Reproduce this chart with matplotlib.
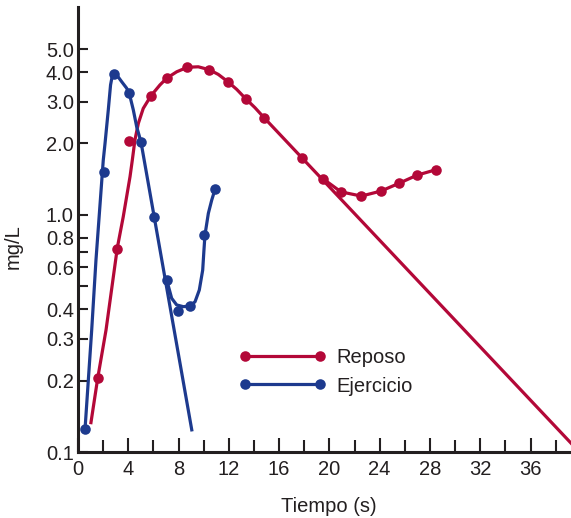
import matplotlib
matplotlib.use('Agg')
import matplotlib.pyplot as plt
from matplotlib.lines import Line2D
from matplotlib.ticker import NullLocator

plt.rcParams['font.family'] = ['Liberation Sans', 'DejaVu Sans']

# Reposo: measured points and the drawn curve (tiempo in s, concentracion in mg/L)
reposo_t = [1.57, 3.08, 4.08, 5.81, 7.06, 8.70, 10.45, 11.93, 13.34, 14.80,
            17.82, 19.49, 20.92, 22.54, 24.11, 25.56, 26.97, 28.48]
reposo_c = [0.205, 0.72, 2.05, 3.18, 3.77, 4.20, 4.08, 3.63, 3.08, 2.55,
            1.73, 1.42, 1.25, 1.20, 1.26, 1.36, 1.47, 1.55]
reposo_curva_t = [1.03, 1.57, 2.23, 3.13, 3.60, 4.14, 4.32, 4.53, 4.80, 5.19,
                  5.81, 6.52, 7.06, 7.85, 8.70, 9.57, 10.45, 11.16, 11.93,
                  12.63, 13.31, 14.08, 14.80, 39.22]
reposo_curva_c = [0.133, 0.205, 0.327, 0.727, 0.982, 1.45, 1.70, 2.07, 2.43,
                  2.81, 3.18, 3.53, 3.77, 4.01, 4.19, 4.21, 4.09, 3.91, 3.64,
                  3.38, 3.10, 2.83, 2.57, 0.109]
reposo_rama_t = [19.49, 20.92, 22.54, 24.11, 25.56, 26.97, 28.48]
reposo_rama_c = [1.42, 1.25, 1.20, 1.26, 1.36, 1.47, 1.55]

# Ejercicio
ejercicio_t = [0.56, 2.07, 2.86, 4.08, 5.01, 6.02, 7.06, 7.93, 8.93, 10.00, 10.90]
ejercicio_c = [0.125, 1.51, 3.92, 3.25, 2.03, 0.98, 0.531, 0.394, 0.413, 0.822, 1.28]
ejercicio_curva_t = [0.56, 1.09, 1.43, 2.01, 2.15, 2.41, 2.59, 2.70, 2.86, 3.08,
                     3.48, 3.87, 4.08, 4.40, 4.67, 5.01, 9.05]
ejercicio_curva_c = [0.125, 0.327, 0.645, 1.70, 2.00, 2.77, 3.53, 3.79, 3.92,
                     3.89, 3.64, 3.42, 3.25, 2.77, 2.35, 2.03, 0.124]
ejercicio_rama_t = [7.06, 7.45, 7.85, 8.38, 8.91, 9.31, 9.65, 9.92, 10.02,
                    10.10, 10.37, 10.64, 10.90]
ejercicio_rama_c = [0.531, 0.445, 0.417, 0.410, 0.413, 0.430, 0.482, 0.585,
                    0.710, 0.822, 1.015, 1.155, 1.28]

x_ticks = [0, 4, 8, 12, 16, 20, 24, 28, 32, 36]
x_minor = [2, 6, 10, 14, 18, 22, 26, 30, 34, 38]
y_ticks = [0.1, 0.2, 0.3, 0.4, 0.5, 0.6, 0.7, 0.8, 1.0, 2.0, 3.0, 4.0, 5.0]
y_labels = ['0.1', '0.2', '0.3', '0.4', '', '0.6', '', '0.8', '1.0',
            '2.0', '3.0', '4.0', '5.0']

ROJO = '#B30838'
AZUL = '#1D3A8E'
NEGRO = '#231F20'
LW = 2.3
MS = 7.6
FS = 14.5

fig = plt.figure(figsize=(5.71, 5.18), dpi=100)
ax = fig.add_axes([0.1366, 0.1274, 0.8634, 0.859])
ax.set_yscale('log')

# red first, blue drawn over it
ax.plot(reposo_curva_t, reposo_curva_c, color=ROJO, lw=LW, solid_joinstyle='round')
ax.plot(reposo_rama_t, reposo_rama_c, color=ROJO, lw=LW, solid_joinstyle='round')
ax.plot(reposo_t, reposo_c, 'o', color=ROJO, ms=MS, mec='none')

ax.plot(ejercicio_curva_t, ejercicio_curva_c, color=AZUL, lw=LW, solid_joinstyle='round')
ax.plot(ejercicio_rama_t, ejercicio_rama_c, color=AZUL, lw=LW, solid_joinstyle='round')
ax.plot(ejercicio_t, ejercicio_c, 'o', color=AZUL, ms=MS, mec='none')

handles = [Line2D([], [], color=ROJO, lw=LW, marker='o', ms=MS, mec='none'),
           Line2D([], [], color=AZUL, lw=LW, marker='o', ms=MS, mec='none')]
ax.legend(handles, ['Reposo', 'Ejercicio'], loc='upper left',
          bbox_to_anchor=(0.3266, 0.2336), frameon=False, borderpad=0,
          borderaxespad=0, handlelength=4.3, handletextpad=0.52,
          labelspacing=0.47, fontsize=FS, numpoints=2, labelcolor=NEGRO)

ax.set_xlim(0, 39.22)
ax.set_ylim(0.1, 7.52)
ax.set_xticks(x_ticks)
ax.set_xticks(x_minor, minor=True)
ax.set_yticks(y_ticks, labels=y_labels)
ax.yaxis.set_minor_locator(NullLocator())

ax.tick_params(axis='x', which='major', direction='in', length=10, width=1.5,
               pad=6, labelsize=FS, colors=NEGRO)
ax.tick_params(axis='x', which='minor', direction='in', length=8.6, width=1.5,
               colors=NEGRO)
ax.tick_params(axis='y', which='major', direction='in', length=7.2, width=1.5,
               pad=3, labelsize=FS, colors=NEGRO)

for s in ['top', 'right']:
    ax.spines[s].set_visible(False)
for s in ['left', 'bottom']:
    ax.spines[s].set_linewidth(2.2)
    ax.spines[s].set_color(NEGRO)

ax.set_xlabel('Tiempo (s)', fontsize=FS, color=NEGRO)
ax.set_ylabel('mg/L', fontsize=FS, color=NEGRO)
ax.xaxis.set_label_coords(0.509, -0.1014)
ax.yaxis.set_label_coords(-0.1116, 0.462)

fig.savefig('out.png', dpi=100)
